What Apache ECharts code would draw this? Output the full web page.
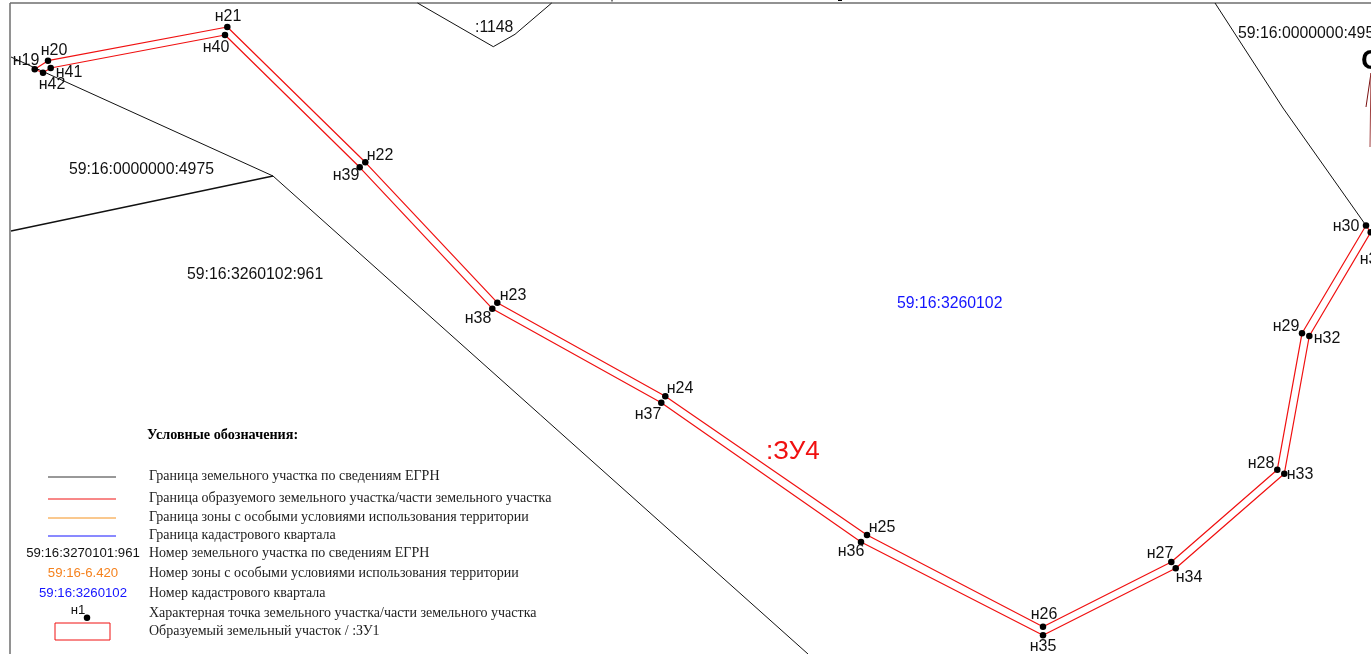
<!DOCTYPE html>
<html>
<head>
    <meta charset="utf-8">
    <title>Схема границ земельного участка</title>
    <script src="https://cdn.jsdelivr.net/npm/echarts@6/dist/echarts.min.js"></script>
    <style>
        html, body { margin: 0; padding: 0; background: #fff; }
        #chart { width: 1371px; height: 654px; }
    </style>
</head>
<body>
<div id="chart"></div>
<script>
    // Map sheet coordinates
    const pointNames = ['н19','н20','н21','н22','н23','н24','н25','н26','н27','н28','н29','н30',
                        'н31','н32','н33','н34','н35','н36','н37','н38','н39','н40','н41','н42'];
    const pointX = [34.7,48,227.3,365.3,497.3,665.3,867,1043,1171.3,1277.3,1302,1366,
                    1370.7,1309.3,1284.3,1175.7,1043,861,661.3,492.3,359.7,225,50.7,43];
    const pointY = [69.3,60.7,27,162.3,302.7,396.3,535,626.7,562,469.7,333.3,225.5,
                    232.3,336,473.7,568.3,635.3,542,402.7,308.7,167.3,35,68,72.7];
    // where each point name sits on the sheet
    const pointLabelX = [26,54,228,380,513,680,882,1044,1160,1261,1286,1346,
                         1373,1327,1300,1189,1043,851,648,478,346,216,69,52];
    const pointLabelY = [60,50,16,155,295,388,527,614,553,463,326,226,
                         259,338,474,577,646,551,414,318,175,47,72,84];

    const frameTop = [[10,3],[1371,3]];
    const frameLeft = [[10,3],[10,654]];
    const egrnLines = [
        [[11,57],[273,176],[808,654]],
        [[11,231],[273,176]],
        [[417.5,3],[493.3,46.7],[515,34.3],[551.7,3]],
        [[1215,3],[1283,108],[1366,225.5]]
    ];
    // bits of clipped text poking out above the frame
    const topTicks = [[[612,0],[612,1.5]], [[838,0.5],[842,0.5]]];

    const parcelNames = ['59:16:0000000:4975','59:16:3260102:961',':1148','59:16:0000000:495'];
    const parcelX = [69,187,475,1238];
    const parcelY = [169,274,27,33];

    const legendTitle = 'Условные обозначения:';
    const legendRows = [
        'Граница земельного участка по сведениям ЕГРН',
        'Граница образуемого земельного участка/части земельного участка',
        'Граница зоны с особыми условиями использования территории',
        'Граница кадастрового квартала',
        'Номер земельного участка по сведениям ЕГРН',
        'Номер зоны с особыми условиями использования территории',
        'Номер кадастрового квартала',
        'Характерная точка земельного участка/части земельного участка',
        'Образуемый земельный участок / :ЗУ1'
    ];
    const legendRowY = [475,497,516,534,552,572,592,612,630];
    const legendSwatchY = [477,499,518,536];
    const legendSwatchColors = ['#333333','#f01010','#f5921e','#1414ff'];
    const legendSamples = ['59:16:3270101:961','59:16-6.420','59:16:3260102'];
    const legendSampleColors = ['#111111','#f5821e','#1414ff'];

    const chart = echarts.init(document.getElementById('chart'));

    function lineSeries(data, color, width) {
        return {
            type: 'line', data: data, symbol: 'none', silent: true, clip: false,
            animation: false, lineStyle: { color: color, width: width }
        };
    }

    function textSeries(items, font) {
        return {
            type: 'scatter', symbolSize: 0, silent: true, clip: false, animation: false,
            z: 5,
            itemStyle: { opacity: 1 },
            data: items.map(t => ({ value: [t[1], t[2]], text: t[0] })),
            label: Object.assign({
                show: true, position: 'inside', verticalAlign: 'middle',
                color: '#111', offset: [0, 1],
                formatter: p => p.data.text
            }, font)
        };
    }

    const sans = 'Liberation Sans';
    const serif = 'Liberation Serif';
    const parcelPath = pointX.map((x, i) => [x, pointY[i]]);
    parcelPath.push(parcelPath[0]);

    const series = [];
    series.push(lineSeries(frameTop, '#6e6e6e', 1.5), lineSeries(frameLeft, '#6e6e6e', 1.5));
    egrnLines.forEach(l => series.push(lineSeries(l, '#111', 1)));
    series[3].lineStyle.width = 1.3;
    topTicks.forEach(l => series.push(lineSeries(l, '#000', 1)));
    series.push(lineSeries(parcelPath, '#f01010', 1.2));

    // boundary marks in the corner, cut off by the sheet edge
    series.push(lineSeries([[1371,73],[1366,107]], '#7a1010', 1));
    series.push(lineSeries([[1371,73],[1370,147]], '#a04040', 1));

    series.push({
        type: 'scatter', symbol: 'circle', symbolSize: 6.5, silent: true, clip: false, animation: false,
        z: 4,
        itemStyle: { color: '#000', opacity: 1 },
        data: parcelPath.slice(0, -1)
    });

    series.push(textSeries(pointNames.map((n, i) => [n, pointLabelX[i], pointLabelY[i]]),
        { fontFamily: sans, fontSize: 16, align: 'center' }));
    series.push(textSeries(parcelNames.map((n, i) => [n, parcelX[i], parcelY[i]]),
        { fontFamily: sans, fontSize: 15.8, align: 'left' }));
    series.push(textSeries([['59:16:3260102', 897, 303]],
        { fontFamily: sans, fontSize: 15.8, align: 'left', color: '#1414ff' }));
    series.push(textSeries([[':ЗУ4', 766, 451]],
        { fontFamily: sans, fontSize: 26, align: 'left', color: '#f01010' }));
    series.push(textSeries([['С', 1361, 60]],
        { fontFamily: sans, fontSize: 28, fontWeight: 'bold', align: 'left', color: '#000' }));

    // legend
    series.push(textSeries([[legendTitle, 147, 434]],
        { fontFamily: serif, fontSize: 14.2, fontWeight: 'bold', align: 'left', color: '#000' }));
    series.push(textSeries(legendRows.map((t, i) => [t, 149, legendRowY[i]]),
        { fontFamily: serif, fontSize: 14, align: 'left', color: '#222' }));
    legendSwatchY.forEach((y, i) => {
        series.push(lineSeries([[48, y], [116, y]], legendSwatchColors[i], 1));
    });
    legendSamples.forEach((t, i) => {
        series.push(textSeries([[t, 83, legendRowY[i + 4]]],
            { fontFamily: sans, fontSize: 13.2, align: 'center', color: legendSampleColors[i] }));
    });
    series.push(textSeries([['н1', 78, 609]],
        { fontFamily: sans, fontSize: 13.2, align: 'center' }));
    series.push({
        type: 'scatter', symbol: 'circle', symbolSize: 6.5, silent: true, clip: false, animation: false,
        z: 4,
        itemStyle: { color: '#000', opacity: 1 }, data: [[87, 617.7]]
    });
    series.push(lineSeries([[55,623],[110,623],[110,640],[55,640],[55,623]], '#f01010', 1));

    chart.setOption({
        animation: false,
        backgroundColor: '#fff',
        grid: { left: 0, right: 0, top: 0, bottom: 0 },
        xAxis: { type: 'value', min: 0, max: 1371, show: false },
        yAxis: { type: 'value', min: 0, max: 654, inverse: true, show: false },
        series: series
    });
</script>
</body>
</html>
